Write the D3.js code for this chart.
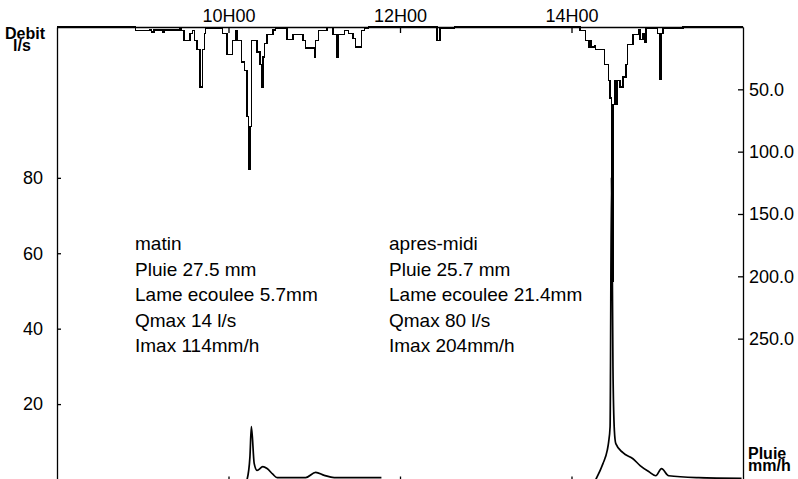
<!DOCTYPE html>
<html>
<head>
<meta charset="utf-8">
<script src="https://cdn.jsdelivr.net/npm/d3@7"></script>
<style>
  body { margin: 0; background: #fff; }
  svg { display: block; font-family: "Liberation Sans", Arial, sans-serif; }
</style>
</head>
<body>
<svg width="798" height="479"></svg>
<script>
// axis ticks
var timeTicks = ["10:00", "12:00", "14:00"];
var debitTicks = [20, 40, 60, 80];
var pluieTicks = [50, 100, 150, 200, 250];

// rainfall intensity (mm/h), each value holds until the next time
var rainTimes = [
  "08:00", "08:55", "09:05", "09:06", "09:08", "09:14", "09:15", "09:26", "09:27", "09:29",
  "09:33", "09:35", "09:36", "09:38", "09:40", "09:42", "09:43", "09:44", "09:56", "09:59",
  "10:03", "10:05", "10:06", "10:09", "10:11", "10:13", "10:14", "10:15", "10:16", "10:20",
  "10:22", "10:23", "10:24", "10:25", "10:27", "10:31", "10:33", "10:41", "10:45", "10:52",
  "10:54", "11:00", "11:01", "11:03", "11:09", "11:13", "11:16", "11:17", "11:21", "11:24",
  "11:27", "11:29", "11:33", "11:35", "11:38",
  "12:26", "12:28", "12:38",
  "14:06", "14:10", "14:12", "14:13", "14:14", "14:16", "14:17", "14:23", "14:26", "14:27",
  "14:28", "14:29", "14:30", "14:31", "14:32", "14:34", "14:36", "14:38", "14:39", "14:43",
  "14:47", "14:48", "14:50", "14:51", "14:52", "15:00", "15:02", "15:03", "15:04", "15:18",
  "16:00"
];
var rainValues = [
  0, 3, 2.5, 4, 2.5, 4, 2.5, 1.5, 3, 11,
  5, 3, 11, 18, 48, 18, 5, 1, 5, 22,
  11, 3, 11, 28, 35, 72, 114, 80, 11, 20,
  30, 48, 24, 13, 6, 2.5, 1, 10, 6, 11,
  17, 24, 11, 3, 0.5, 6, 24, 6, 3, 5,
  9, 16, 3, 1, 0,
  11, 1, 0,
  3, 11, 16, 11, 16, 15, 18, 30, 43, 57,
  204, 62, 43, 62, 43, 48, 40, 30, 14, 6,
  2.5, 10, 5, 12, 1, 5, 42, 5, 1, 0,
  0
];

// discharge (l/s), morning and afternoon events
var flowAmTimes = ["10:13", "10:15", "10:16", "10:18", "10:20", "10:24", "10:27", "10:31", "10:34", "10:54", "11:01", "11:07", "11:14", "11:47"];
var flowAmValues = [0, 6, 14, 4.2, 2.4, 3.4, 2.9, 1.4, 0.5, 0.5, 1.9, 1.1, 0.5, 0.5];
var flowPmTimes = ["14:17", "14:22", "14:25", "14:26", "14:27", "14:28", "14:29", "14:30", "14:31", "14:36", "14:43", "14:48", "14:54", "14:59", "15:03", "15:08", "15:29", "15:59"];
var flowPmValues = [0, 4.2, 7.7, 10, 14, 80, 30, 13, 9.5, 7.1, 5.5, 3.7, 2.1, 1.0, 2.9, 1.0, 0.5, 0.3];

// notes
var morningNotes = ["matin", "Pluie 27.5 mm", "Lame ecoulee 5.7mm", "Qmax 14 l/s", "Imax 114mm/h"];
var afternoonNotes = ["apres-midi", "Pluie 25.7 mm", "Lame ecoulee 21.4mm", "Qmax 80 l/s", "Imax 204mm/h"];

var svg = d3.select("svg");
var parseTime = d3.timeParse("%H:%M");

// plot box (window.top is taken, so prefix everything)
var boxLeft = 57, boxRight = 743, boxTop = 27, boxBottom = 479.5;

var x = d3.scaleTime()
  .domain([parseTime("08:00"), parseTime("16:00")])
  .range([boxLeft, boxRight]);

// debit from the bottom, pluie hanging from the top
var yFlow = d3.scaleLinear().domain([0, 120]).range([boxBottom, boxTop]);
var yRain = d3.scaleLinear().domain([0, 363]).range([boxTop, boxBottom]);

var rain = rainTimes.map(function (t, i) { return { t: parseTime(t), v: rainValues[i] }; });
var flowAm = flowAmTimes.map(function (t, i) { return { t: parseTime(t), v: flowAmValues[i] }; });
var flowPm = flowPmTimes.map(function (t, i) { return { t: parseTime(t), v: flowPmValues[i] }; });

// axes
svg.append("g")
  .attr("transform", "translate(0," + boxTop + ")")
  .call(d3.axisTop(x)
    .tickValues(timeTicks.map(parseTime))
    .tickFormat(d3.timeFormat("%HH%M"))
    .tickSizeInner(-6).tickSizeOuter(0).tickPadding(5));

svg.append("g")
  .attr("transform", "translate(0," + boxBottom + ")")
  .call(d3.axisBottom(x)
    .tickValues(timeTicks.map(parseTime))
    .tickFormat("")
    .tickSizeInner(-3).tickSizeOuter(0));

svg.append("g")
  .attr("transform", "translate(" + boxLeft + ",0)")
  .call(d3.axisLeft(yFlow)
    .tickValues(debitTicks)
    .tickSizeInner(-4).tickSizeOuter(0).tickPadding(14));

svg.append("g")
  .attr("transform", "translate(" + boxRight + ",0)")
  .call(d3.axisRight(yRain)
    .tickValues(pluieTicks)
    .tickFormat(d3.format(".1f"))
    .tickSizeInner(-5).tickSizeOuter(0).tickPadding(6));

svg.selectAll(".tick text")
  .attr("font-size", 18)
  .attr("font-family", "Liberation Sans, Arial, sans-serif")
  .attr("fill", "#000");
svg.selectAll(".domain, .tick line")
  .attr("stroke", "#000")
  .attr("stroke-width", 1.3);

// rainfall steps
svg.append("path")
  .datum(rain)
  .attr("fill", "none")
  .attr("stroke", "#000")
  .attr("stroke-width", 1.4)
  .attr("shape-rendering", "crispEdges")
  .attr("d", d3.line()
    .x(function (d) { return x(d.t); })
    .y(function (d) { return yRain(d.v); })
    .curve(d3.curveStepAfter));

// discharge curves
var flowLine = d3.line()
  .x(function (d) { return x(d.t); })
  .y(function (d) { return yFlow(d.v); })
  .curve(d3.curveMonotoneX);

svg.selectAll(".flow")
  .data([flowAm, flowPm])
  .enter().append("path")
  .attr("class", "flow")
  .attr("fill", "none")
  .attr("stroke", "#000")
  .attr("stroke-width", 1.7)
  .attr("d", flowLine);

// axis titles, stacked tight like the original
var titles = svg.append("g").attr("font-size", 16).attr("font-weight", "bold").attr("fill", "#000");
titles.append("text").attr("x", 5).attr("y", 39).text("Debit");
titles.append("text").attr("x", 13).attr("y", 51).text("l/s");
titles.append("text").attr("x", 748).attr("y", 459).text("Pluie");
titles.append("text").attr("x", 748).attr("y", 471).text("mm/h");

// event summaries
function notes(lines, x0) {
  svg.append("g")
    .selectAll("text")
    .data(lines)
    .enter().append("text")
    .attr("x", x0)
    .attr("y", function (d, i) { return 250 + i * 25.5; })
    .attr("font-size", 19)
    .attr("fill", "#000")
    .text(function (d) { return d; });
}
notes(morningNotes, 135);
notes(afternoonNotes, 389);
</script>
</body>
</html>
